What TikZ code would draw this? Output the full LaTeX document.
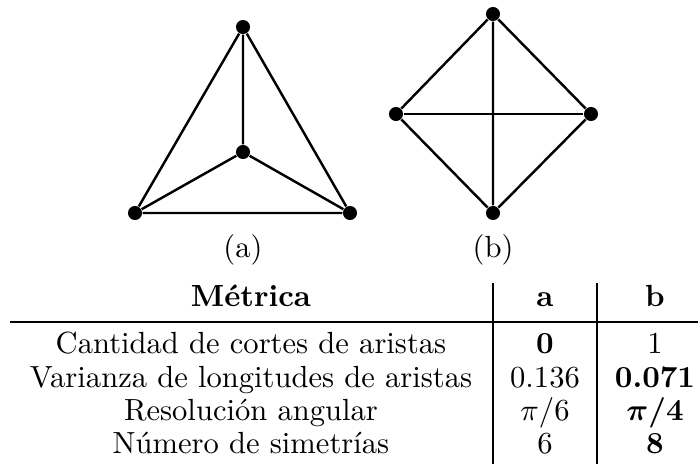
\documentclass[tikz,border=0pt]{standalone}
\usepackage{amsmath}
\begin{document}
\begin{tikzpicture}[x=0.327pt,y=-0.327pt,
  vtx/.style={circle,fill=black,inner sep=0pt,minimum size=4.6pt},
  edge/.style={line width=0.8pt},
  cell/.style={anchor=base,inner sep=0pt,font=\fontsize{10}{12}\selectfont},
  rulev/.style={line width=0.45pt},
  ruleh/.style={line width=0.65pt}]
\useasboundingbox (0,0) rectangle (698,473);
% graph (a)
\node[vtx] (at) at (243,27) {};
\node[vtx] (ac) at (243,152) {};
\node[vtx] (al) at (135,213) {};
\node[vtx] (ar) at (350,213) {};
\draw[edge] (at) -- (al) -- (ar) -- (at) -- (ac);
\draw[edge] (ac) -- (al);
\draw[edge] (ac) -- (ar);
% graph (b)
\node[vtx] (bt) at (493,14) {};
\node[vtx] (bl) at (396,114) {};
\node[vtx] (br) at (591,114) {};
\node[vtx] (bb) at (493,213) {};
\draw[edge] (bt) -- (bl) -- (bb) -- (br) -- (bt) -- (bb);
\draw[edge] (bl) -- (br);
\node[cell] (la) at (243,257) {(a)};
\node[cell] (lb) at (493,257) {(b)};
% table
\node[cell] (h1) at (251,306) {\textbf{Métrica}};
\node[cell] (h2) at (545,306) {\textbf{a}};
\node[cell] (h3) at (655,306) {\textbf{b}};
\node[cell] (r11) at (251,353) {Cantidad de cortes de aristas};
\node[cell] (r12) at (545,353) {\textbf{0}};
\node[cell] (r13) at (655,353) {1};
\node[cell] (r21) at (251,387) {Varianza de longitudes de aristas};
\node[cell] (r22) at (545,387) {0.136};
\node[cell] (r23) at (655,387) {\textbf{0.071}};
\node[cell] (r31) at (251,420) {Resolución angular};
\node[cell] (r32) at (545,420) {$\pi/6$};
\node[cell] (r33) at (655,420) {$\boldsymbol{\pi/4}$};
\node[cell] (r41) at (251,453) {Número de simetrías};
\node[cell] (r42) at (545,453) {6};
\node[cell] (r43) at (655,453) {\textbf{8}};
\coordinate (v1t) at (493,283);
\coordinate (v1b) at (493,464);
\coordinate (v2t) at (597,283);
\coordinate (v2b) at (597,464);
\coordinate (hl) at (10,322);
\coordinate (hr) at (698,322);
\draw[rulev] (v1t) -- (v1b);
\draw[rulev] (v2t) -- (v2b);
\draw[ruleh] (hl) -- (hr);
\end{tikzpicture}
\end{document}
